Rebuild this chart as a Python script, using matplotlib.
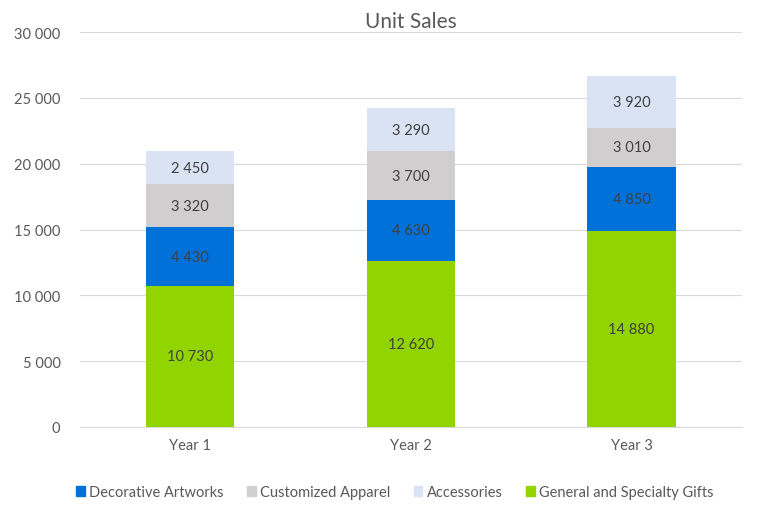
import matplotlib.pyplot as plt
from matplotlib.patches import Patch

plt.rcParams['font.family'] = ['Lato', 'DejaVu Sans']

jahre = ['Year 1', 'Year 2', 'Year 3']
gifts = [10730, 12620, 14880]
artworks = [4430, 4630, 4850]
apparel = [3320, 3700, 3010]
accessories = [2450, 3290, 3920]

serien = [
    ('General and Specialty Gifts', gifts, '#92d400'),
    ('Decorative Artworks', artworks, '#0071d9'),
    ('Customized Apparel', apparel, '#d0cece'),
    ('Accessories', accessories, '#dae3f3'),
]

def fmt(v):
    return f'{v:,}'.replace(',', ' ')

fig = plt.figure(figsize=(7.68, 5.10), dpi=100)
ax = fig.add_axes([0.104, 0.161, 0.862, 0.774])

x = range(len(jahre))
boden = [0, 0, 0]
for name, werte, farbe in serien:
    bars = ax.bar(x, werte, bottom=boden, width=0.4, color=farbe, zorder=3)
    for b, w, u in zip(bars, werte, boden):
        ax.text(b.get_x() + b.get_width() / 2, u + w / 2, fmt(w),
                ha='center', va='center', fontsize=10.5, color='#404040', zorder=4)
    boden = [u + w for u, w in zip(boden, werte)]

ax.set_ylim(0, 30000)
ax.set_xlim(-0.5, 2.5)
ax.set_yticks(range(0, 30001, 5000))
ax.set_yticklabels([fmt(v) for v in range(0, 30001, 5000)])
ax.set_xticks(list(x))
ax.set_xticklabels(jahre)
ax.tick_params(axis='both', length=0, labelsize=10.5, colors='#595959', pad=8)
ax.tick_params(axis='y', pad=14)
ax.grid(axis='y', color='#d9d9d9', linewidth=0.8, zorder=0)
for s in ['top', 'right', 'left']:
    ax.spines[s].set_visible(False)
ax.spines['bottom'].set_color('#d9d9d9')

ax.set_title('Unit Sales', fontsize=15, color='#595959', pad=4)

reihenfolge = [1, 2, 3, 0]
handles = [Patch(color=serien[i][2], label=serien[i][0]) for i in reihenfolge]
fig.legend(handles=handles, loc='center', bbox_to_anchor=(0.514, 0.033), ncol=4,
           frameon=False, fontsize=10.5, handlelength=0.6, handleheight=0.6,
           handletextpad=0.3, columnspacing=1.6, labelcolor='#595959')

fig.savefig('out.png', dpi=100)
